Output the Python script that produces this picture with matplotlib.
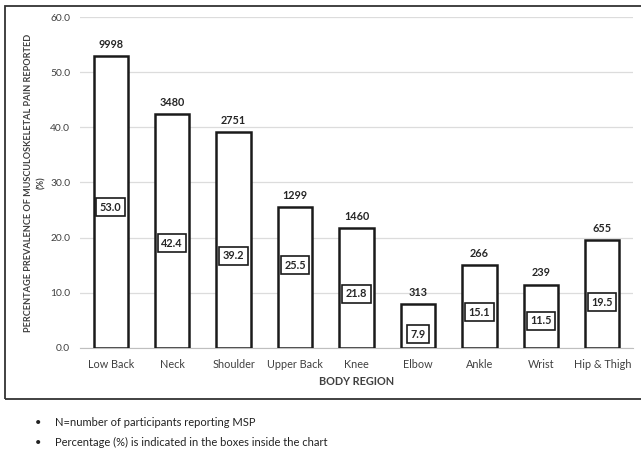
import numpy as np
import matplotlib.pyplot as plt
from matplotlib.patches import Rectangle

regions = ["Low Back", "Neck", "Shoulder", "Upper Back", "Knee",
           "Elbow", "Ankle", "Wrist", "Hip & Thigh"]
prevalence = [53.0, 42.4, 39.2, 25.5, 21.8, 7.9, 15.1, 11.5, 19.5]
counts = [9998, 3480, 2751, 1299, 1460, 313, 266, 239, 655]
# heights where the % boxes sit inside the bars (as placed in the original)
box_heights = [25.5, 19.0, 16.7, 15.0, 9.8, 2.5, 6.5, 4.9, 8.3]

notes = ["N=number of participants reporting MSP",
         "Percentage (%) is indicated in the boxes inside the chart"]

plt.rcParams["font.family"] = ["Lato", "DejaVu Sans"]

fig = plt.figure(figsize=(6.41, 4.5), dpi=100)
ax = fig.add_axes([0.1248, 0.2267, 0.8627, 0.7355])

x = np.arange(len(regions))
ax.bar(x, prevalence, width=0.56, color="white", edgecolor="#1a1a1a",
       linewidth=1.8, zorder=3)

for i, (v, n, h) in enumerate(zip(prevalence, counts, box_heights)):
    ax.text(i, v + 1.1, f"{n}", ha="center", va="bottom", fontsize=7.8,
            fontweight="bold", color="#262626", zorder=4)
    ax.text(i, h, f"{v:.1f}", ha="center", va="center", fontsize=7.8,
            fontweight="bold", color="#262626", zorder=4,
            bbox=dict(boxstyle="square,pad=0.32", fc="white", ec="#1a1a1a", lw=1.2))

ax.set_xlim(-0.5, len(regions) - 0.5)
ax.set_ylim(0, 60)
ax.set_yticks(np.arange(0, 61, 10))
ax.set_yticklabels([f"{t:.1f}" for t in np.arange(0, 61, 10)])
ax.set_xticks(x)
ax.set_xticklabels(regions)
ax.tick_params(axis="both", length=0, labelsize=7.8, colors="#404040")
ax.tick_params(axis="x", pad=8)
ax.tick_params(axis="y", pad=7, labelsize=7.4)
ax.yaxis.grid(True, color="#dcdcdc", linewidth=0.9, zorder=0)
ax.set_axisbelow(True)
for s in ["top", "right", "left"]:
    ax.spines[s].set_visible(False)
ax.spines["bottom"].set_color("#bfbfbf")

ax.set_xlabel("BODY REGION", fontsize=7.8, fontweight="bold", color="#404040", labelpad=4)
ax.set_ylabel("PERCENTAGE PREVALENCE OF MUSCULOSKELETAL PAIN REPORTED\n(%)",
              fontsize=6.6, fontweight="bold", color="#404040",
              linespacing=1.5)
ax.yaxis.set_label_coords(-0.062, 0.5)

# outer chart frame
fig.patches.append(Rectangle((5 / 641, 1 - 399 / 450), 640 / 641, 393 / 450,
                             transform=fig.transFigure, fill=False,
                             edgecolor="#333333", linewidth=1.3))

for k, note in enumerate(notes):
    yy = 1 - (423 + 19 * k) / 450
    fig.text(35 / 641, yy, "\u2022", fontsize=8, va="center", color="#222222")
    fig.text(55 / 641, yy, note, fontsize=8, va="center", color="#222222")

fig.savefig("out.png", dpi=100)
